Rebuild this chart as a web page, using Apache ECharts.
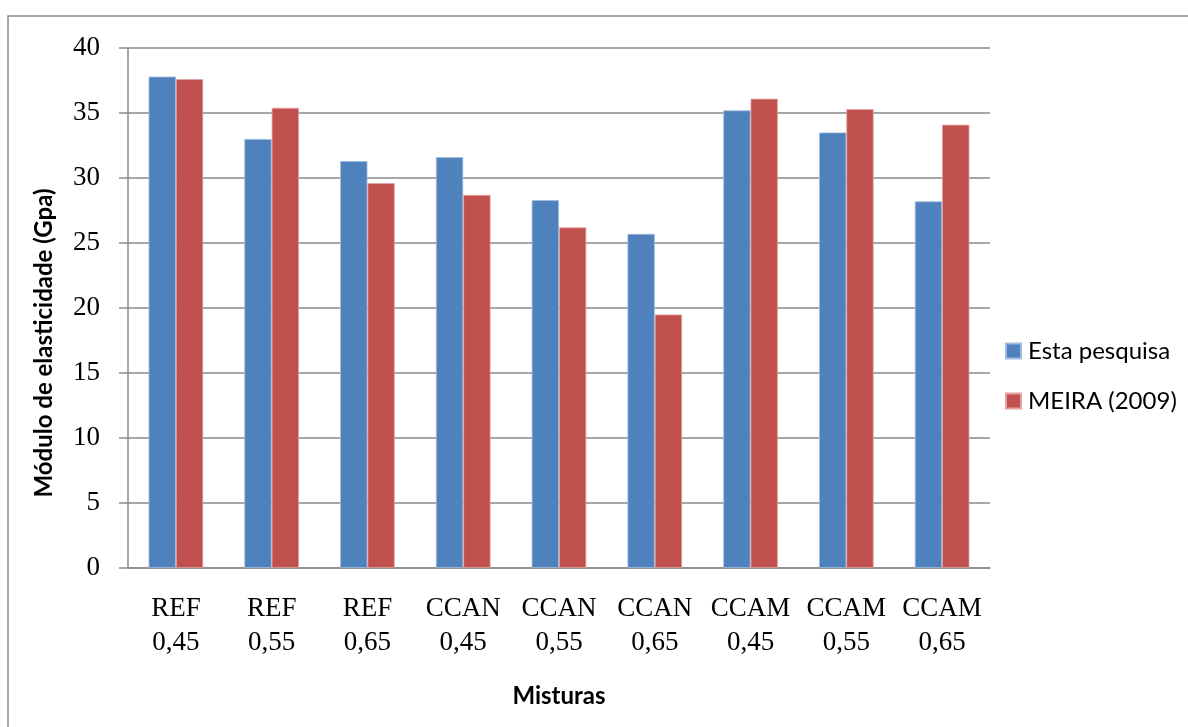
<!DOCTYPE html>
<html>
<head>
<meta charset="utf-8">
<script src="https://cdn.jsdelivr.net/npm/echarts@6/dist/echarts.min.js"></script>
<style>
  html, body { margin: 0; padding: 0; background: #ffffff; }
  #chart { width: 1188px; height: 727px; }
</style>
</head>
<body>
<div id="chart"></div>
<script>
// Mixtures (two-line category labels)
const categories = [
  'REF\n0,45', 'REF\n0,55', 'REF\n0,65',
  'CCAN\n0,45', 'CCAN\n0,55', 'CCAN\n0,65',
  'CCAM\n0,45', 'CCAM\n0,55', 'CCAM\n0,65'
];

// Modulus of elasticity (GPa)
const estaPesquisa = [37.8, 33.0, 31.3, 31.6, 28.3, 25.7, 35.2, 33.5, 28.2];
const meira2009    = [37.6, 35.4, 29.6, 28.7, 26.2, 19.5, 36.1, 35.3, 34.1];

const seriesNames = ['Esta pesquisa', 'MEIRA (2009)'];
const yTicks = { min: 0, max: 40, step: 5 };

const gridColor = '#8a8a8a';
const serif = '"Liberation Serif", "DejaVu Serif", serif';
const sans = 'Lato, "Noto Sans", sans-serif';

const chart = echarts.init(document.getElementById('chart'), null, { renderer: 'canvas' });

chart.setOption({
  animation: false,
  backgroundColor: '#ffffff',
  graphic: [{
    type: 'rect',
    shape: { x: 8, y: 16, width: 1400, height: 900 },
    style: { fill: 'none', stroke: '#8a8a8a', lineWidth: 1.5 },
    silent: true,
    z: 0
  }],
  grid: { left: 128, right: 198, top: 48, bottom: 159 },
  legend: {
    orient: 'vertical',
    left: 1000,
    top: 334,
    itemWidth: 15,
    itemHeight: 15,
    itemGap: 26,
    icon: 'rect',
    data: seriesNames,
    textStyle: { fontFamily: sans, fontSize: 24, color: '#000', padding: [0, 0, 0, 2] }
  },
  xAxis: {
    type: 'category',
    data: categories,
    name: 'Misturas',
    nameLocation: 'middle',
    nameGap: 116,
    nameTextStyle: { fontFamily: sans, fontWeight: 'bold', fontSize: 24, color: '#000' },
    axisLine: { show: true, lineStyle: { color: gridColor, width: 1.5 } },
    axisTick: { show: false },
    axisLabel: {
      interval: 0,
      margin: 24,
      fontFamily: serif,
      fontSize: 27,
      lineHeight: 34,
      color: '#000'
    }
  },
  yAxis: {
    type: 'value',
    min: yTicks.min,
    max: yTicks.max,
    interval: yTicks.step,
    name: 'Módulo de elasticidade (Gpa)',
    nameLocation: 'middle',
    nameRotate: 90,
    nameGap: 72,
    nameTextStyle: {
      fontFamily: sans, fontWeight: 'bold', fontSize: 24, color: '#000',
      padding: [0, 70, 0, 0]
    },
    axisLine: { show: true, lineStyle: { color: gridColor, width: 1.5 } },
    axisTick: { show: true, length: 9, lineStyle: { color: gridColor, width: 1.5 } },
    axisLabel: { margin: 28, fontFamily: serif, fontSize: 27, color: '#000' },
    splitLine: { show: true, lineStyle: { color: gridColor, width: 1.5 } }
  },
  series: [
    {
      name: seriesNames[0],
      type: 'bar',
      data: estaPesquisa,
      barGap: '0%',
      barCategoryGap: '43%',
      itemStyle: { color: '#4F81BD', borderColor: '#9fbbe0', borderWidth: 0.8 }
    },
    {
      name: seriesNames[1],
      type: 'bar',
      data: meira2009,
      barGap: '0%',
      barCategoryGap: '43%',
      itemStyle: { color: '#C0504D', borderColor: '#e3a4a2', borderWidth: 0.8 }
    }
  ]
});
</script>
</body>
</html>
